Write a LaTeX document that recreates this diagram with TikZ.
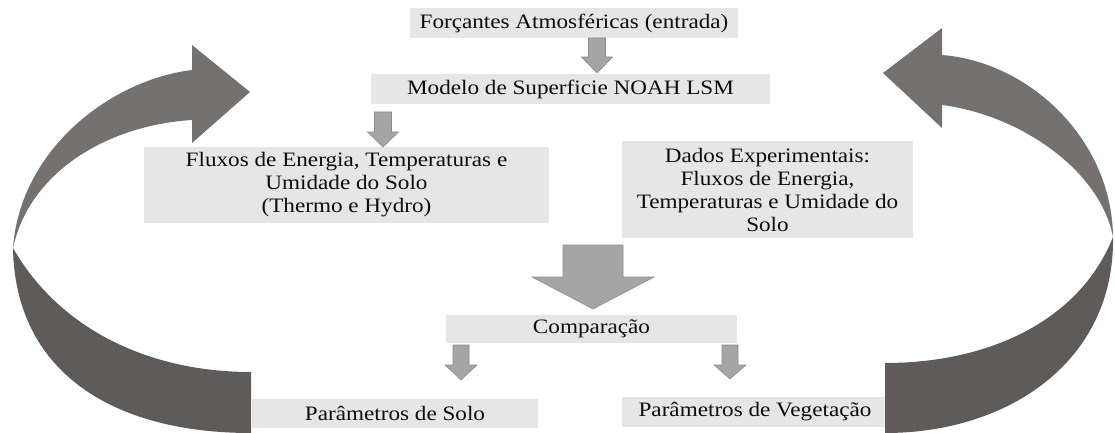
\documentclass[tikz,border=0pt]{standalone}
\usepackage{fontspec}
\setmainfont{Liberation Serif}[FakeStretch=1.13]
\definecolor{boxgray}{HTML}{E6E6E6}
\definecolor{arrowgray}{HTML}{A5A5A5}
\definecolor{arrowedge}{HTML}{8C8C8C}
\definecolor{curveup}{HTML}{757171}
\definecolor{curvelow}{HTML}{5F5B5B}
\definecolor{textc}{HTML}{0D0D0D}
\newcommand{\dblk}[6]{%
  \filldraw[smallarrow] ({#1-#5},#2) -- ({#1+#5},#2) -- ({#1+#5},#3) -- ({#1+#6},#3)
    -- (#1,#4) -- ({#1-#6},#3) -- ({#1-#5},#3) -- cycle;}
\begin{document}
\begin{tikzpicture}[x=1pt,y=-1pt,
  box/.style={fill=boxgray, draw=none, inner sep=0pt, align=center,
    font=\fontsize{20.5}{23}\selectfont, text=textc},
  smallarrow/.style={fill=arrowgray, draw=arrowedge, line width=0.6pt}]
\useasboundingbox (0,0) rectangle (1115,433);
\clip (0,0) rectangle (1115,433);
\fill[white] (0,0) rectangle (1115,433);

\node[box, minimum width=328, minimum height=30] (forc) at (574,23) {Forçantes Atmosféricas (entrada)};
\node[box, minimum width=399, minimum height=30] (modelo) at (570.5,89) {Modelo de Superficie NOAH LSM};
\node[box, minimum width=405, minimum height=76] (fluxos) at (346.5,185) {Fluxos de Energia, Temperaturas e\\Umidade do Solo\\(Thermo e Hydro)};
\node[box, minimum width=291, minimum height=97] (dados) at (767.5,189.5) {Dados Experimentais:\\Fluxos de Energia,\\Temperaturas e Umidade do\\Solo};
\node[box, minimum width=291, minimum height=28] (comp) at (591.5,329) {Comparação};
\node[box, minimum width=286, minimum height=29] (solo) at (395,413.5) {Parâmetros de Solo};
\node[box, minimum width=266, minimum height=30] (veg) at (755,412) {Parâmetros de Vegetação};

% block arrows
\dblk{597}{38}{57}{73}{8.5}{15.5}
\dblk{383}{112}{132}{147}{8.5}{15.5}
\dblk{593}{245}{277}{309}{30}{61}
\dblk{461}{345}{365}{380}{8}{16}
\dblk{730}{345}{365}{379}{8}{16}

% left curved arrow
\fill[curveup] (192,70) .. controls (110,80) and (20,150) .. (13,248)
  .. controls (30,170) and (110,125) .. (192,120) -- (192,143) -- (250,92) -- (192,45) -- cycle;
\fill[curvelow] (13,248) .. controls (15,370) and (110,433) .. (251,433) -- (251,440) -- (251,372)
  .. controls (150,372) and (60,330) .. (13,248) -- cycle;

% right curved arrow
\fill[curveup] (942,55) .. controls (1030,62) and (1112,140) .. (1113,237)
  .. controls (1100,170) and (1020,115) .. (942,105) -- (942,128) -- (883,73) -- (942,28) -- cycle;
\fill[curvelow] (1113,237) .. controls (1115,360) and (1010,433) .. (885,433) -- (885,363)
  .. controls (990,363) and (1080,320) .. (1113,237) -- cycle;
\end{tikzpicture}
\end{document}
